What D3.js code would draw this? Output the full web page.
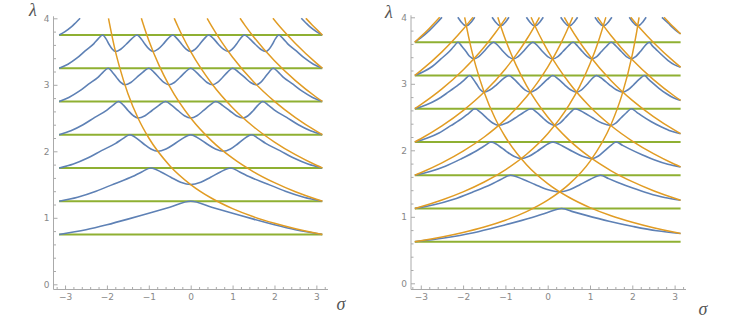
<!DOCTYPE html>
<meta charset="utf-8">
<style>
body { margin: 0; background: #fff; }
svg { display: block; }
.tick text { font-family: "DejaVu Sans", sans-serif; font-size: 9px; fill: #888; }
.tick line { stroke: #aaa; }
.axname { font-family: "Liberation Serif", serif; font-style: italic; font-size: 18px; fill: #555; }
</style>
<body>
<svg id="chart" width="737" height="327"></svg>
<script src="https://d3js.org/d3.v7.min.js"></script>
<script>
// green threshold levels
const levelsLeft = [0.75, 1.25, 1.75, 2.25, 2.75, 3.25, 3.75];
const levelsRight = [0.625, 1.125, 1.625, 2.125, 2.625, 3.125, 3.625];

// orange curves, decreasing family (same in both panels)
const orangeDown = [
  [[-1.963,4.0],[-1.9,3.80],[-1.8,3.51],[-1.7,3.27],[-1.5,2.87],[-1.25,2.49],[-1.0,2.20],[-0.5,1.784],[0,1.5],[0.5,1.294],[1,1.138],[1.5,1.015],[2,0.917],[2.5,0.835],[3,0.767],[3.142,0.75]],
  [[-1.178,4.0],[-1.1,3.847],[-1.0,3.667],[-0.75,3.284],[-0.5,2.973],[0,2.5],[0.5,2.157],[1,1.896],[1.5,1.692],[2,1.528],[2.5,1.392],[3,1.279],[3.142,1.25]],
  [[-0.393,4.0],[-0.3,3.87],[-0.2,3.738],[0,3.5],[0.25,3.242],[0.5,3.019],[1,2.655],[1.5,2.369],[2,2.139],[2.5,1.949],[3,1.79],[3.142,1.75]],
  [[0.393,4.0],[0.5,3.882],[0.75,3.633],[1,3.414],[1.5,3.046],[2,2.75],[2.5,2.506],[3,2.302],[3.142,2.25]],
  [[1.178,4.0],[1.3,3.89],[1.5,3.722],[2,3.361],[2.5,3.063],[3,2.813],[3.142,2.75]],
  [[1.963,4.0],[2.05,3.933],[2.2,3.823],[2.5,3.62],[3,3.325],[3.142,3.25]],
  [[2.749,4.0],[2.9,3.9],[3,3.837],[3.142,3.75]]
];

// orange curves, increasing family (right panel only)
const orangeUp = [
  [[-3.142,0.625],[-3,0.639],[-2.5,0.696],[-2,0.764],[-1.5,0.846],[-1,0.948],[-0.5,1.078],[0,1.25],[0.5,1.487],[1,1.834],[1.5,2.392],[1.75,2.822],[2,3.44],[2.1,3.77],[2.16,4.0]],
  [[-3.142,1.125],[-3,1.151],[-2.5,1.253],[-2,1.375],[-1.5,1.523],[-1,1.707],[-0.5,1.941],[0,2.25],[0.5,2.676],[0.75,2.955],[1,3.301],[1.2,3.641],[1.374,4.0]],
  [[-3.142,1.625],[-3,1.662],[-2.5,1.81],[-2,1.986],[-1.5,2.2],[-1,2.465],[-0.5,2.804],[-0.25,3.01],[0,3.25],[0.3,3.593],[0.45,3.793],[0.589,4.0]],
  [[-3.142,2.125],[-3,2.174],[-2.5,2.367],[-2,2.597],[-1.5,2.876],[-1,3.224],[-0.75,3.431],[-0.5,3.666],[-0.35,3.824],[-0.196,4.0]],
  [[-3.142,2.625],[-3,2.686],[-2.5,2.923],[-2,3.208],[-1.5,3.553],[-1.25,3.756],[-0.982,4.0]],
  [[-3.142,3.125],[-3,3.197],[-2.5,3.48],[-2.25,3.642],[-2,3.819],[-1.767,4.0]],
  [[-3.142,3.625],[-3,3.709],[-2.8,3.833],[-2.65,3.933],[-2.553,4.0]]
];

// blue bands, left panel
const blueLeft = [
  [[-3.14,0.75],[-2.5,0.82],[-2,0.895],[-1.5,0.98],[-1,1.07],[-0.5,1.16],[0,1.25],[0.5,1.16],[1,1.07],[1.5,0.98],[2,0.895],[2.5,0.82],[3.14,0.75]],
  [[-3.14,1.25],[-2.70,1.31],[-2.26,1.40],[-1.83,1.51],[-1.39,1.62],[-1.17,1.69],[-0.95,1.75],[-0.71,1.69],[-0.475,1.61],[-0.24,1.535],[0,1.5],[0.24,1.535],[0.475,1.61],[0.71,1.69],[0.95,1.75],[1.17,1.69],[1.39,1.62],[1.83,1.51],[2.26,1.40],[2.70,1.31],[3.14,1.25]],
  [[-3.14,1.75],[-2.80,1.81],[-2.46,1.90],[-2.13,2.01],[-1.79,2.12],[-1.62,2.19],[-1.45,2.25],[-1.28,2.19],[-1.12,2.11],[-0.95,2.035],[-0.785,2.0],[-0.59,2.035],[-0.39,2.11],[-0.20,2.19],[0,2.25],[0.20,2.19],[0.39,2.11],[0.59,2.035],[0.785,2.0],[0.95,2.035],[1.12,2.11],[1.28,2.19],[1.45,2.25],[1.62,2.19],[1.79,2.12],[2.13,2.01],[2.46,1.90],[2.80,1.81],[3.14,1.75]],
  [[-3.14,2.25],[-2.86,2.31],[-2.57,2.40],[-2.29,2.51],[-2.00,2.62],[-1.86,2.69],[-1.72,2.75],[-1.60,2.69],[-1.49,2.61],[-1.37,2.535],[-1.257,2.5],[-1.09,2.535],[-0.93,2.61],[-0.76,2.69],[-0.6,2.75],[-0.45,2.69],[-0.3,2.61],[-0.15,2.535],[0,2.5],[0.15,2.535],[0.3,2.61],[0.45,2.69],[0.6,2.75],[0.76,2.69],[0.93,2.61],[1.09,2.535],[1.257,2.5],[1.37,2.535],[1.49,2.61],[1.60,2.69],[1.72,2.75],[1.86,2.69],[2.00,2.62],[2.29,2.51],[2.57,2.40],[2.86,2.31],[3.14,2.25]],
  [[-3.14,2.75],[-2.91,2.81],[-2.67,2.90],[-2.44,3.01],[-2.20,3.12],[-2.09,3.19],[-1.97,3.25],[-1.87,3.19],[-1.77,3.11],[-1.67,3.035],[-1.571,3.0],[-1.43,3.035],[-1.29,3.11],[-1.14,3.19],[-1.0,3.25],[-0.88,3.19],[-0.76,3.11],[-0.64,3.035],[-0.524,3.0],[-0.39,3.035],[-0.26,3.11],[-0.13,3.19],[0,3.25],[0.13,3.19],[0.26,3.11],[0.39,3.035],[0.524,3.0],[0.64,3.035],[0.76,3.11],[0.88,3.19],[1.0,3.25],[1.14,3.19],[1.29,3.11],[1.43,3.035],[1.571,3.0],[1.67,3.035],[1.77,3.11],[1.87,3.19],[1.97,3.25],[2.09,3.19],[2.20,3.12],[2.44,3.01],[2.67,2.90],[2.91,2.81],[3.14,2.75]],
  [[-3.14,3.25],[-2.93,3.31],[-2.72,3.40],[-2.52,3.51],[-2.31,3.62],[-2.21,3.69],[-2.1,3.75],[-2.02,3.69],[-1.95,3.61],[-1.87,3.535],[-1.795,3.5],[-1.67,3.535],[-1.54,3.61],[-1.41,3.69],[-1.28,3.75],[-1.18,3.69],[-1.09,3.61],[-0.99,3.535],[-0.898,3.5],[-0.78,3.535],[-0.66,3.61],[-0.55,3.69],[-0.43,3.75],[-0.32,3.69],[-0.215,3.61],[-0.11,3.535],[0,3.5],[0.11,3.535],[0.215,3.61],[0.32,3.69],[0.43,3.75],[0.55,3.69],[0.66,3.61],[0.78,3.535],[0.898,3.5],[0.99,3.535],[1.09,3.61],[1.18,3.69],[1.28,3.75],[1.41,3.69],[1.54,3.61],[1.67,3.535],[1.795,3.5],[1.87,3.535],[1.95,3.61],[2.02,3.69],[2.1,3.75],[2.21,3.69],[2.31,3.62],[2.52,3.51],[2.72,3.40],[2.93,3.31],[3.14,3.25]],
  [[-3.14,3.75],[-3.0,3.80],[-2.85,3.87],[-2.75,3.93],[-2.64,4.0]],
  [[2.64,4.0],[2.75,3.93],[2.85,3.87],[3.0,3.80],[3.14,3.75]]
];

// blue bands, right panel
const blueRight = [
  [[-3.14,0.625],[-2.45,0.68],[-1.75,0.76],[-1.06,0.87],[-0.37,0.99],[-0.02,1.06],[0.33,1.125],[0.61,1.074],[0.89,1.025],[1.45,0.933],[2.02,0.854],[2.58,0.789],[3.14,0.75]],
  [[-3.14,1.125],[-2.69,1.18],[-2.24,1.26],[-1.78,1.37],[-1.33,1.49],[-1.11,1.56],[-0.88,1.625],[-0.59,1.565],[-0.30,1.485],[-0.01,1.41],[0.286,1.375],[0.53,1.41],[0.77,1.485],[1.01,1.565],[1.25,1.625],[1.44,1.574],[1.63,1.525],[2.01,1.433],[2.38,1.354],[2.76,1.289],[3.14,1.25]],
  [[-3.14,1.625],[-2.78,1.68],[-2.42,1.76],[-2.05,1.87],[-1.69,1.99],[-1.51,2.06],[-1.33,2.125],[-1.15,2.065],[-0.98,1.985],[-0.80,1.91],[-0.628,1.875],[-0.44,1.91],[-0.25,1.985],[-0.07,2.065],[0.12,2.125],[0.35,2.065],[0.58,1.985],[0.82,1.91],[1.047,1.875],[1.19,1.91],[1.33,1.985],[1.48,2.065],[1.62,2.125],[1.77,2.074],[1.92,2.025],[2.23,1.933],[2.53,1.854],[2.84,1.789],[3.14,1.75]],
  [[-3.14,2.125],[-2.86,2.18],[-2.57,2.26],[-2.29,2.37],[-2.00,2.49],[-1.86,2.56],[-1.72,2.625],[-1.58,2.565],[-1.44,2.485],[-1.30,2.41],[-1.157,2.375],[-0.97,2.41],[-0.77,2.485],[-0.58,2.565],[-0.39,2.625],[-0.25,2.565],[-0.11,2.485],[0.03,2.41],[0.165,2.375],[0.29,2.41],[0.41,2.485],[0.53,2.565],[0.65,2.625],[0.86,2.565],[1.07,2.485],[1.28,2.41],[1.488,2.375],[1.61,2.41],[1.73,2.485],[1.86,2.565],[1.98,2.625],[2.10,2.574],[2.21,2.525],[2.44,2.433],[2.68,2.354],[2.91,2.289],[3.14,2.25]],
  [[-3.14,2.625],[-2.88,2.68],[-2.62,2.76],[-2.36,2.87],[-2.10,2.99],[-1.97,3.06],[-1.84,3.125],[-1.755,3.065],[-1.67,2.985],[-1.59,2.91],[-1.502,2.875],[-1.36,2.91],[-1.21,2.985],[-1.07,3.065],[-0.92,3.125],[-0.79,3.065],[-0.665,2.985],[-0.54,2.91],[-0.41,2.875],[-0.28,2.91],[-0.145,2.985],[-0.01,3.065],[0.12,3.125],[0.26,3.065],[0.40,2.985],[0.54,2.91],[0.683,2.875],[0.80,2.91],[0.92,2.985],[1.03,3.065],[1.15,3.125],[1.31,3.065],[1.46,2.985],[1.62,2.91],[1.776,2.875],[1.90,2.91],[2.03,2.985],[2.16,3.065],[2.29,3.125],[2.375,3.074],[2.46,3.025],[2.63,2.933],[2.80,2.854],[2.97,2.789],[3.14,2.75]],
  [[-3.14,3.125],[-2.94,3.18],[-2.73,3.26],[-2.53,3.37],[-2.32,3.49],[-2.22,3.56],[-2.12,3.625],[-2.03,3.565],[-1.93,3.485],[-1.84,3.41],[-1.745,3.375],[-1.63,3.41],[-1.51,3.485],[-1.40,3.565],[-1.28,3.625],[-1.16,3.565],[-1.05,3.485],[-0.93,3.41],[-0.814,3.375],[-0.70,3.41],[-0.58,3.485],[-0.47,3.565],[-0.35,3.625],[-0.23,3.565],[-0.12,3.485],[0.0,3.41],[0.116,3.375],[0.24,3.41],[0.36,3.485],[0.48,3.565],[0.6,3.625],[0.71,3.565],[0.82,3.485],[0.94,3.41],[1.047,3.375],[1.16,3.41],[1.27,3.485],[1.39,3.565],[1.5,3.625],[1.62,3.565],[1.74,3.485],[1.86,3.41],[1.978,3.375],[2.08,3.41],[2.19,3.485],[2.29,3.565],[2.4,3.625],[2.47,3.574],[2.55,3.525],[2.70,3.433],[2.84,3.354],[2.99,3.289],[3.14,3.25]],
  [[-3.14,3.625],[-3.0,3.69],[-2.8,3.80],[-2.6,3.93],[-2.5,4.0]],
  [[-2.125,4.0],[-2.045,3.93],[-1.975,3.885],[-1.925,3.875],[-1.875,3.885],[-1.805,3.93],[-1.725,4.0]],
  [[-1.315,4.0],[-1.235,3.93],[-1.165,3.885],[-1.115,3.875],[-1.065,3.885],[-0.995,3.93],[-0.915,4.0]],
  [[-0.504,4.0],[-0.424,3.93],[-0.354,3.885],[-0.304,3.875],[-0.254,3.885],[-0.184,3.93],[-0.104,4.0]],
  [[0.307,4.0],[0.387,3.93],[0.457,3.885],[0.507,3.875],[0.557,3.885],[0.627,3.93],[0.707,4.0]],
  [[1.117,4.0],[1.197,3.93],[1.267,3.885],[1.317,3.875],[1.367,3.885],[1.437,3.93],[1.517,4.0]],
  [[1.928,4.0],[2.008,3.93],[2.078,3.885],[2.128,3.875],[2.178,3.885],[2.248,3.93],[2.328,4.0]],
  [[2.7,4.0],[2.85,3.91],[3.0,3.82],[3.14,3.75]]
];

const xMajor = [-3, -2, -1, 0, 1, 2, 3];
const yMajor = [0, 1, 2, 3, 4];

const svg = d3.select("#chart");
svg.append("rect").attr("width", 737).attr("height", 327).attr("fill", "#fff");

const panels = [
  { id: "L", x0: 59.1, x1: 322.3, y0: 284.3, y1: 18.3, axX: 53.5, axY: 289.5, axEnd: 328,
    levels: levelsLeft, orange: orangeDown, blue: blueLeft, lam: [33, 16], sig: [341, 310] },
  { id: "R", x0: 414.8, x1: 680.6, y0: 283.3, y1: 17.3, axX: 411, axY: 289.5, axEnd: 686,
    levels: levelsRight, orange: orangeDown.concat(orangeUp), blue: blueRight, lam: [389, 18], sig: [703, 315] }
];

const intFmt = d3.format("d");

panels.forEach(p => {
  const x = d3.scaleLinear().domain([-Math.PI, Math.PI]).range([p.x0, p.x1]);
  const y = d3.scaleLinear().domain([0, 4]).range([p.y0, p.y1]);
  const line = d3.line().x(d => x(d[0])).y(d => y(d[1])).curve(d3.curveMonotoneX);

  // axes, major + minor ticks pointing inward
  const minorX = d3.range(-16, 17).map(i => i * 0.2).filter(v => Math.abs(v - Math.round(v)) > 1e-6);
  const minorY = d3.range(1, 20).map(i => i * 0.2).filter(v => Math.abs(v - Math.round(v)) > 1e-6);

  const gx = svg.append("g").attr("transform", `translate(0,${p.axY})`);
  gx.call(d3.axisBottom(x).tickValues(xMajor).tickFormat(intFmt).tickSizeInner(-4).tickSizeOuter(0).tickPadding(4));
  gx.append("g").call(d3.axisBottom(x).tickValues(minorX).tickFormat("").tickSizeInner(-2.5).tickSizeOuter(0));
  const gy = svg.append("g").attr("transform", `translate(${p.axX},0)`);
  gy.call(d3.axisLeft(y).tickValues(yMajor).tickFormat(intFmt).tickSizeInner(-4).tickSizeOuter(0).tickPadding(4));
  gy.append("g").call(d3.axisLeft(y).tickValues(minorY).tickFormat("").tickSizeInner(-2.5).tickSizeOuter(0));
  svg.selectAll(".domain").remove();
  svg.append("line").attr("x1", p.axX).attr("x2", p.axEnd).attr("y1", p.axY).attr("y2", p.axY)
    .attr("stroke", "#aaa").attr("stroke-width", 1);
  svg.append("line").attr("x1", p.axX).attr("x2", p.axX).attr("y1", p.y1 - 2).attr("y2", p.axY)
    .attr("stroke", "#aaa").attr("stroke-width", 1);

  svg.append("clipPath").attr("id", "clip" + p.id)
    .append("rect").attr("x", p.x0 - 4).attr("y", y(4) - 0.5)
    .attr("width", p.x1 - p.x0 + 8).attr("height", p.y0 - y(4) + 10);

  const plot = svg.append("g").attr("clip-path", `url(#clip${p.id})`);

  plot.selectAll(".green").data(p.levels).enter().append("line")
    .attr("x1", x(-Math.PI)).attr("x2", x(Math.PI))
    .attr("y1", d => y(d)).attr("y2", d => y(d))
    .attr("stroke", "#8fb032").attr("stroke-width", 2);

  plot.selectAll(".blue").data(p.blue).enter().append("path")
    .attr("d", line).attr("fill", "none")
    .attr("stroke", "#5e81b5").attr("stroke-width", 1.6);

  plot.selectAll(".orange").data(p.orange).enter().append("path")
    .attr("d", line).attr("fill", "none")
    .attr("stroke", "#e19c24").attr("stroke-width", 1.5);

  svg.append("text").attr("class", "axname").attr("x", p.lam[0]).attr("y", p.lam[1])
    .attr("text-anchor", "middle").text("λ");
  svg.append("text").attr("class", "axname").attr("x", p.sig[0]).attr("y", p.sig[1])
    .attr("text-anchor", "middle").text("σ");
});
</script>
</body>
